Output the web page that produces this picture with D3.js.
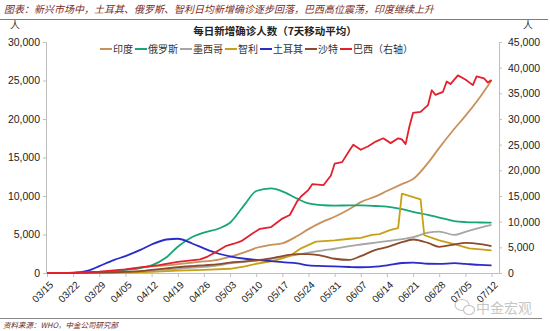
<!DOCTYPE html>
<html><head><meta charset="utf-8">
<script src="https://cdn.jsdelivr.net/npm/d3@7"></script>
<style>
body{margin:0;background:#fff;}
svg{display:block;}
text{font-family:"Liberation Sans","Noto Sans CJK SC",sans-serif;}
.cjk{font-family:"Noto Sans CJK SC","Liberation Sans",sans-serif;}
</style></head>
<body>
<svg id="c" width="550" height="331"></svg>
<script>
// ---------- data ----------
const seriesNames = ["印度","俄罗斯","墨西哥","智利","土耳其","沙特","巴西（右轴）"];
const seriesColors = ["#C8915B","#17A57A","#A6A6A6","#C7A017","#2B2BCB","#8E4B2A","#E3202E"];
const xTickLabels = ["03/15","03/22","03/29","04/05","04/12","04/19","04/26","05/03","05/10","05/17","05/24","05/31","06/07","06/14","06/21","06/28","07/05","07/12"];
const leftTicks = [0,5000,10000,15000,20000,25000,30000];
const rightTicks = [0,5000,10000,15000,20000,25000,30000,35000,40000,45000];

// shared dates for the smooth series
const dates = ["03/15","03/19","03/22","03/26","03/29","04/02","04/05","04/09","04/12","04/16","04/19","04/23","04/26","04/30","05/03","05/07","05/10","05/14","05/17","05/21","05/24","05/28","05/31","06/04","06/07","06/11","06/14","06/18","06/21","06/25","06/28","07/02","07/05","07/09","07/12"];
const india  = [0,10,20,60,100,250,450,700,850,1000,1150,1350,1500,1750,2100,2700,3250,3650,3850,4800,5700,6700,7300,8300,9200,9950,10650,11550,12200,14300,16250,18700,20400,22900,25000];
const russia = [0,10,20,50,100,200,400,650,1000,2050,3400,4700,5250,5780,6530,8950,10650,11000,10600,9650,9050,8800,8750,8780,8780,8700,8620,8300,7950,7550,7200,6750,6620,6560,6530];
const mexico = [0,5,10,20,40,80,130,250,350,450,550,700,800,1000,1250,1450,1600,1850,2050,2400,2650,2950,3150,3500,3700,3950,4150,4400,4650,5250,5370,4950,5350,5900,6250];
const turkey = [0,5,30,300,900,1700,2200,3000,3700,4350,4450,3800,3200,2500,2150,1850,1700,1550,1400,1250,1000,900,850,780,750,820,1000,1300,1350,1200,1180,1280,1180,1050,1000];
const saudi  = [0,5,10,30,60,100,150,250,400,600,750,900,1000,1150,1350,1500,1650,1900,2200,2450,2450,2200,1850,1700,2200,3000,3350,4000,4350,3900,3400,3700,3900,3750,3500];

// Chile (own dates, sharp step)
const chileDates  = ["03/15","04/05","04/12","04/19","04/26","05/03","05/07","05/10","05/14","05/17","05/19","05/22","05/26","05/31","06/04","06/07","06/10","06/12","06/15","06/17","06/18","06/23","06/24","06/28","07/02","07/06","07/12"];
const chileValues = [0,50,150,300,400,550,850,1200,1500,1900,2210,3200,4070,4250,4450,4550,4950,5050,5600,5820,10300,9550,4900,4250,3750,3200,2950];

// Brazil (right axis, own dates)
const brazilDates  = ["03/15","03/22","03/29","04/05","04/09","04/14","04/19","04/25","04/27","04/29","05/02","05/04","05/06","05/09","05/11","05/14","05/17","05/19","05/21","05/22","05/24","05/25","05/28","05/30","05/31","06/02","06/04","06/05","06/07","06/09","06/11","06/13","06/15","06/17","06/18","06/19","06/20","06/21","06/23","06/25","06/26","06/27","06/29","06/30","07/01","07/03","07/05","07/07","07/08","07/10","07/11","07/12"];
const brazilValues = [0,40,250,700,1100,1550,2150,2650,3200,4000,5300,5700,6200,7700,8600,8950,10600,11300,14000,14900,16200,17300,17100,19000,21300,21600,23900,25000,24000,24700,25600,26240,25300,26240,26040,25100,28500,31200,31400,32700,35600,34700,35300,37300,36800,38500,37700,36600,38300,37900,37100,37600];

// ---------- drawing ----------
const svg = d3.select("#c");
const pd = s => d3.timeParse("%m/%d/%Y")(s + "/2020");

const x = d3.scaleTime().domain([pd("03/15"), pd("07/14")]).range([47, 499]);
const yL = d3.scaleLinear().domain([0, 30000]).range([273, 42]);
const yR = d3.scaleLinear().domain([0, 45000]).range([273, 42]);

// header
svg.append("text").attr("class","cjk").attr("x",4).attr("y",13)
  .attr("font-size",10).attr("font-style","italic").attr("fill","#7A2B22")
  .text("图表：新兴市场中，土耳其、俄罗斯、智利日均新增确诊逐步回落，巴西高位震荡，印度继续上升");
svg.append("line").attr("x1",0).attr("x2",548).attr("y1",19.5).attr("y2",19.5)
  .attr("stroke","#8A7A74").attr("stroke-width",1);

svg.append("text").attr("class","cjk").attr("x",275).attr("y",35).attr("text-anchor","middle")
  .attr("font-size",10.5).attr("font-weight","bold").attr("fill","#222")
  .text("每日新增确诊人数（7天移动平均）");
svg.append("text").attr("class","cjk").attr("x",15).attr("y",29).attr("text-anchor","middle")
  .attr("font-size",10).attr("fill","#333").text("人");
svg.append("text").attr("class","cjk").attr("x",528).attr("y",29).attr("text-anchor","middle")
  .attr("font-size",10).attr("fill","#333").text("人");

// axes
function styleAxis(g){
  g.select(".domain").attr("stroke","#BFBFBF");
  g.selectAll(".tick line").attr("stroke","#BFBFBF");
  g.selectAll(".tick text").attr("fill","#222").attr("font-size",10.5);
}
svg.append("g").attr("transform","translate(46,0)")
  .call(d3.axisLeft(yL).tickValues(leftTicks).tickFormat(d3.format(",")).tickSizeOuter(0).tickSize(3).tickPadding(3))
  .call(styleAxis);
svg.append("g").attr("transform","translate(499,0)")
  .call(d3.axisRight(yR).tickValues(rightTicks).tickFormat(d3.format(",")).tickSizeOuter(0).tickSize(3).tickPadding(6))
  .call(styleAxis);
const xg = svg.append("g").attr("transform","translate(0,273)")
  .call(d3.axisBottom(x).tickValues(xTickLabels.map(pd)).tickFormat(d3.timeFormat("%m/%d")).tickSizeOuter(0).tickSize(4))
  .call(styleAxis);
xg.select(".domain").attr("d","M46,0.5H499");
xg.selectAll(".tick text").attr("x",0).attr("y",0).attr("dy","0.35em")
  .attr("text-anchor","end").attr("transform","translate(4,10) rotate(-45)").attr("font-size",10);

// lines
const smooth = [india, russia, mexico, null, turkey, saudi];
const lineL = d3.line().x(d => x(d[0])).y(d => yL(d[1]));
const lineR = d3.line().x(d => x(d[0])).y(d => yR(d[1]));
const pdates = dates.map(pd);
const order = [0,1,2,3,4,5];
order.forEach(i => {
  let pts;
  if (i === 3) pts = chileDates.map((d,j) => [pd(d), chileValues[j]]);
  else pts = pdates.map((d,j) => [d, smooth[i][j]]);
  svg.append("path").datum(pts)
    .attr("d", i === 3 ? lineL.curve(d3.curveLinear)(pts) : lineL.curve(d3.curveMonotoneX)(pts))
    .attr("fill","none").attr("stroke",seriesColors[i]).attr("stroke-width",1.8)
    .attr("stroke-linejoin","round");
});
const bpts = brazilDates.map((d,j) => [pd(d), brazilValues[j]]);
svg.append("path").datum(bpts).attr("d", lineR)
  .attr("fill","none").attr("stroke",seriesColors[6]).attr("stroke-width",1.8)
  .attr("stroke-linejoin","round");

// legend
let lx = 100;
const ly = 49;
seriesNames.forEach((n,i) => {
  svg.append("line").attr("x1",lx).attr("x2",lx+12).attr("y1",ly).attr("y2",ly)
    .attr("stroke",seriesColors[i]).attr("stroke-width",2);
  const t = svg.append("text").attr("class","cjk").attr("x",lx+13).attr("y",ly+3.5)
    .attr("font-size",10).attr("fill","#333").text(n);
  lx += 13 + t.node().getComputedTextLength() + 2;
});

// footer
svg.append("line").attr("x1",0).attr("x2",542).attr("y1",318.5).attr("y2",318.5)
  .attr("stroke","#8A8A8A").attr("stroke-width",1);
svg.append("text").attr("class","cjk").attr("x",3).attr("y",328)
  .attr("font-size",7.5).attr("font-style","italic").attr("fill","#6B2A1F")
  .text("资料来源：WHO，中金公司研究部");

// watermark
const wm = svg.append("g").attr("opacity",0.55);
wm.append("ellipse").attr("cx",462).attr("cy",305).attr("rx",7).attr("ry",5.5)
  .attr("fill","none").attr("stroke","#999").attr("stroke-width",1.2);
wm.append("ellipse").attr("cx",469).attr("cy",310).attr("rx",5.5).attr("ry",4.5)
  .attr("fill","#fff").attr("stroke","#999").attr("stroke-width",1.2);
wm.append("text").attr("class","cjk").attr("x",476).attr("y",313)
  .attr("font-size",14).attr("fill","#999").text("中金宏观");
</script>
</body></html>
